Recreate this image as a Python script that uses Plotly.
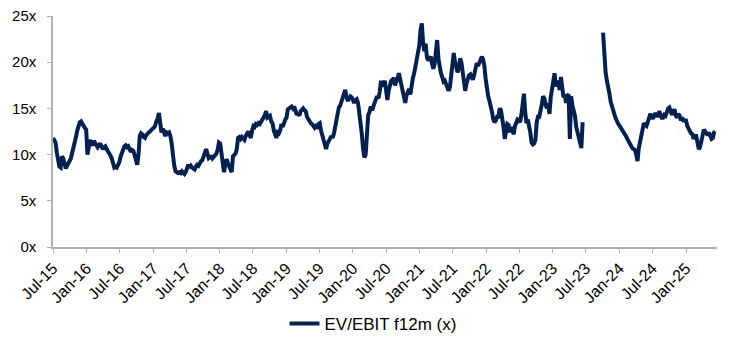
import pandas as pd
import plotly.graph_objects as go

# Weekly observations (Wednesdays) starting 1 Jul 2015, in 52-week blocks
start_date = "2015-07-01"
series_name = "EV/EBIT f12m (x)"

wk_2015_16 = [11.8, 11.6, 11.3, 10.2, 9.5, 8.7, 8.6, 9.8, 9.6, 9.0,
              8.5, 8.8, 9.0, 9.3, 9.6, 10.1, 10.6, 11.2, 11.9, 12.6,
              13.3, 13.5, 13.6, 13.2, 13.1, 12.9, 12.7, 10.0, 10.6, 11.6,
              11.2, 11.0, 11.5, 11.2, 10.9, 10.8, 11.0, 11.2, 10.9, 10.6,
              10.8, 10.9, 10.6, 10.4, 10.2, 9.9, 9.6, 9.1, 8.6, 8.7,
              8.6, 8.9]
wk_2016_17 = [9.2, 9.8, 10.3, 10.7, 10.9, 11.0, 10.8, 10.9, 10.6, 10.3,
              10.5, 10.4, 9.9, 9.2, 8.9, 10.0, 12.0, 12.3, 12.2, 11.9,
              11.8, 12.1, 12.3, 12.4, 12.5, 12.7, 12.8, 12.9, 13.1, 13.6,
              13.9, 14.5, 13.0, 12.4, 12.8, 12.3, 12.0, 12.4, 12.3, 12.4,
              12.0, 11.2, 9.8, 8.8, 8.2, 8.1, 8.0, 8.1, 8.0, 8.2,
              8.1, 7.9]
wk_2017_18 = [8.1, 8.5, 8.9, 8.6, 8.8, 8.6, 8.5, 8.4, 8.7, 8.9,
              8.8, 9.1, 9.3, 9.4, 9.7, 10.2, 10.6, 9.9, 9.6, 9.7,
              9.9, 9.6, 9.8, 10.0, 10.1, 10.5, 11.3, 11.2, 10.2, 8.4,
              8.1, 8.9, 9.5, 9.1, 8.8, 8.3, 8.1, 9.8, 10.0, 10.1,
              10.6, 11.8, 11.9, 11.7, 11.9, 11.7, 11.6, 12.0, 12.3, 12.5,
              12.1, 11.8]
wk_2018_19 = [12.6, 13.1, 13.0, 13.3, 13.2, 13.4, 13.3, 13.5, 13.8, 14.0,
              14.3, 14.7, 14.0, 14.1, 14.2, 13.6, 13.4, 12.6, 12.0, 11.8,
              12.4, 12.3, 12.6, 13.3, 13.0, 13.6, 13.8, 14.0, 14.9, 15.0,
              15.1, 15.2, 15.0, 15.2, 14.8, 14.3, 14.5, 14.2, 14.7, 14.9,
              15.0, 14.8, 14.7, 14.1, 13.8, 13.6, 13.4, 13.3, 13.0, 12.9,
              13.1, 13.0]
wk_2019_20 = [13.3, 13.4, 12.6, 12.0, 11.7, 11.1, 10.6, 11.2, 11.4, 11.7,
              12.0, 11.8, 12.2, 13.0, 13.8, 14.9, 15.1, 15.3, 15.7, 16.2,
              16.6, 17.0, 16.2, 15.8, 16.1, 16.3, 16.2, 15.9, 15.6, 15.9,
              16.0, 15.6, 14.6, 13.7, 12.2, 10.6, 9.7, 10.0, 13.5, 14.3,
              14.6, 15.2, 14.8, 15.3, 15.7, 16.0, 16.3, 16.1, 16.8, 18.0,
              17.4, 17.6]
wk_2020_21 = [18.0, 17.0, 15.9, 16.9, 17.7, 18.0, 18.1, 18.3, 17.5, 17.8,
              18.3, 18.8, 18.1, 17.5, 16.8, 16.3, 15.6, 16.4, 16.9, 17.1,
              16.5, 17.6, 18.3, 18.8, 19.5, 20.4, 20.7, 21.8, 23.5, 24.2,
              22.1, 21.2, 22.0, 20.5, 20.2, 20.4, 20.6, 19.8, 19.3, 19.8,
              21.0, 22.4, 20.4, 19.3, 18.8, 18.4, 17.9, 18.0, 17.5, 17.0,
              16.9, 17.3]
wk_2021_22 = [18.8, 20.2, 21.0, 20.0, 19.2, 18.9, 19.4, 20.4, 20.0, 19.0,
              17.9, 16.9, 17.7, 18.2, 18.6, 18.7, 18.3, 18.1, 18.6, 19.3,
              19.9, 19.6, 20.0, 20.4, 20.6, 20.3, 19.6, 18.2, 17.0, 16.3,
              15.8, 15.3, 14.6, 13.8, 13.5, 13.7, 14.1, 14.1, 15.0, 14.8,
              14.1, 13.0, 11.7, 12.6, 13.3, 13.2, 12.4, 13.0, 12.5, 12.2,
              13.1, 13.5]
wk_2022_23 = [13.8, 13.7, 13.5, 14.3, 15.2, 16.6, 14.6, 13.4, 13.8, 13.3,
              12.4, 11.3, 11.1, 11.2, 11.6, 13.5, 14.1, 14.1, 14.6, 15.4,
              16.3, 16.1, 15.4, 15.0, 15.6, 14.4, 16.2, 17.3, 18.1, 18.8,
              17.4, 17.6, 18.0, 17.0, 18.4, 17.0, 16.2, 16.5, 15.6, 16.4,
              16.5, 11.7, 16.3, 15.3, 14.8, 14.2, 13.0, 12.3, 11.6, 11.1,
              10.7, 13.5]
wk_2023_24 = [None, None, None, None, None, None, None, None, None, None,
              None, None, None, None, None, 23.2, 20.8, 18.9, 18.0, 17.5,
              16.6, 15.7, 15.1, 14.6, 14.3, 13.9, 13.5, 13.3, 13.1, 12.9,
              12.6, 12.4, 12.2, 12.0, 11.7, 11.4, 11.1, 10.8, 10.7, 10.6,
              10.5, 10.0, 9.3, 10.7, 11.3, 11.9, 12.6, 13.4, 13.2, 13.1,
              13.5, 14.2]
wk_2024_25 = [14.4, 14.1, 13.9, 14.2, 14.5, 14.2, 14.2, 14.7, 14.3, 14.0,
              14.0, 14.3, 14.2, 14.7, 15.0, 15.1, 14.7, 14.3, 14.7, 14.9,
              14.2, 14.0, 14.4, 14.2, 13.7, 14.0, 13.7, 13.7, 13.7, 13.1,
              12.8, 12.5, 12.3, 12.2, 11.7, 12.0, 12.0, 11.3, 10.6, 10.8,
              11.3, 12.1, 12.7, 12.5, 12.2, 12.1, 12.4, 11.9, 11.7, 11.8,
              12.4, 12.5]

y_tick_values = [0, 5, 10, 15, 20, 25]
y_tick_labels = ["0x", "5x", "10x", "15x", "20x", "25x"]

values = (wk_2015_16 + wk_2016_17 + wk_2017_18 + wk_2018_19 + wk_2019_20
          + wk_2020_21 + wk_2021_22 + wk_2022_23 + wk_2023_24 + wk_2024_25)
dates = pd.date_range(start_date, periods=len(values), freq="W-WED")

navy = "#00214F"
axis_grey = "#B0B0B0"
font_family = "Liberation Sans, Arial, sans-serif"

fig = go.Figure()
fig.add_trace(go.Scatter(
    x=dates, y=values, mode="lines", name=series_name,
    line=dict(color=navy, width=4), connectgaps=False,
))

fig.update_layout(
    width=746, height=341,
    margin=dict(l=53, r=29, t=16, b=94),
    paper_bgcolor="white", plot_bgcolor="white",
    font=dict(family=font_family, size=15, color="#000000"),
    showlegend=True,
    legend=dict(
        orientation="h", xref="container", yref="container",
        x=0.5, xanchor="center", y=0.05, yanchor="middle",
        font=dict(size=17),
    ),
)

fig.update_xaxes(
    type="date",
    range=["2015-07-01", "2025-06-20"],
    tick0="2015-07-01", dtick="M6", tickformat="%b-%y",
    tickangle=-45,
    showgrid=False, zeroline=False,
    showline=True, linecolor=axis_grey, linewidth=1.5,
    ticks="outside", ticklen=4, tickcolor=axis_grey,
    tickfont=dict(size=16),
    automargin=False,
)

fig.update_yaxes(
    range=[0, 25], tickmode="array",
    tickvals=y_tick_values, ticktext=y_tick_labels,
    showgrid=False, zeroline=False,
    showline=True, linecolor=axis_grey, linewidth=1.5,
    ticks="outside", ticklen=4, tickcolor=axis_grey,
    ticklabelstandoff=8,
    tickfont=dict(size=15),
    automargin=False,
)

fig.write_html("out.html")
